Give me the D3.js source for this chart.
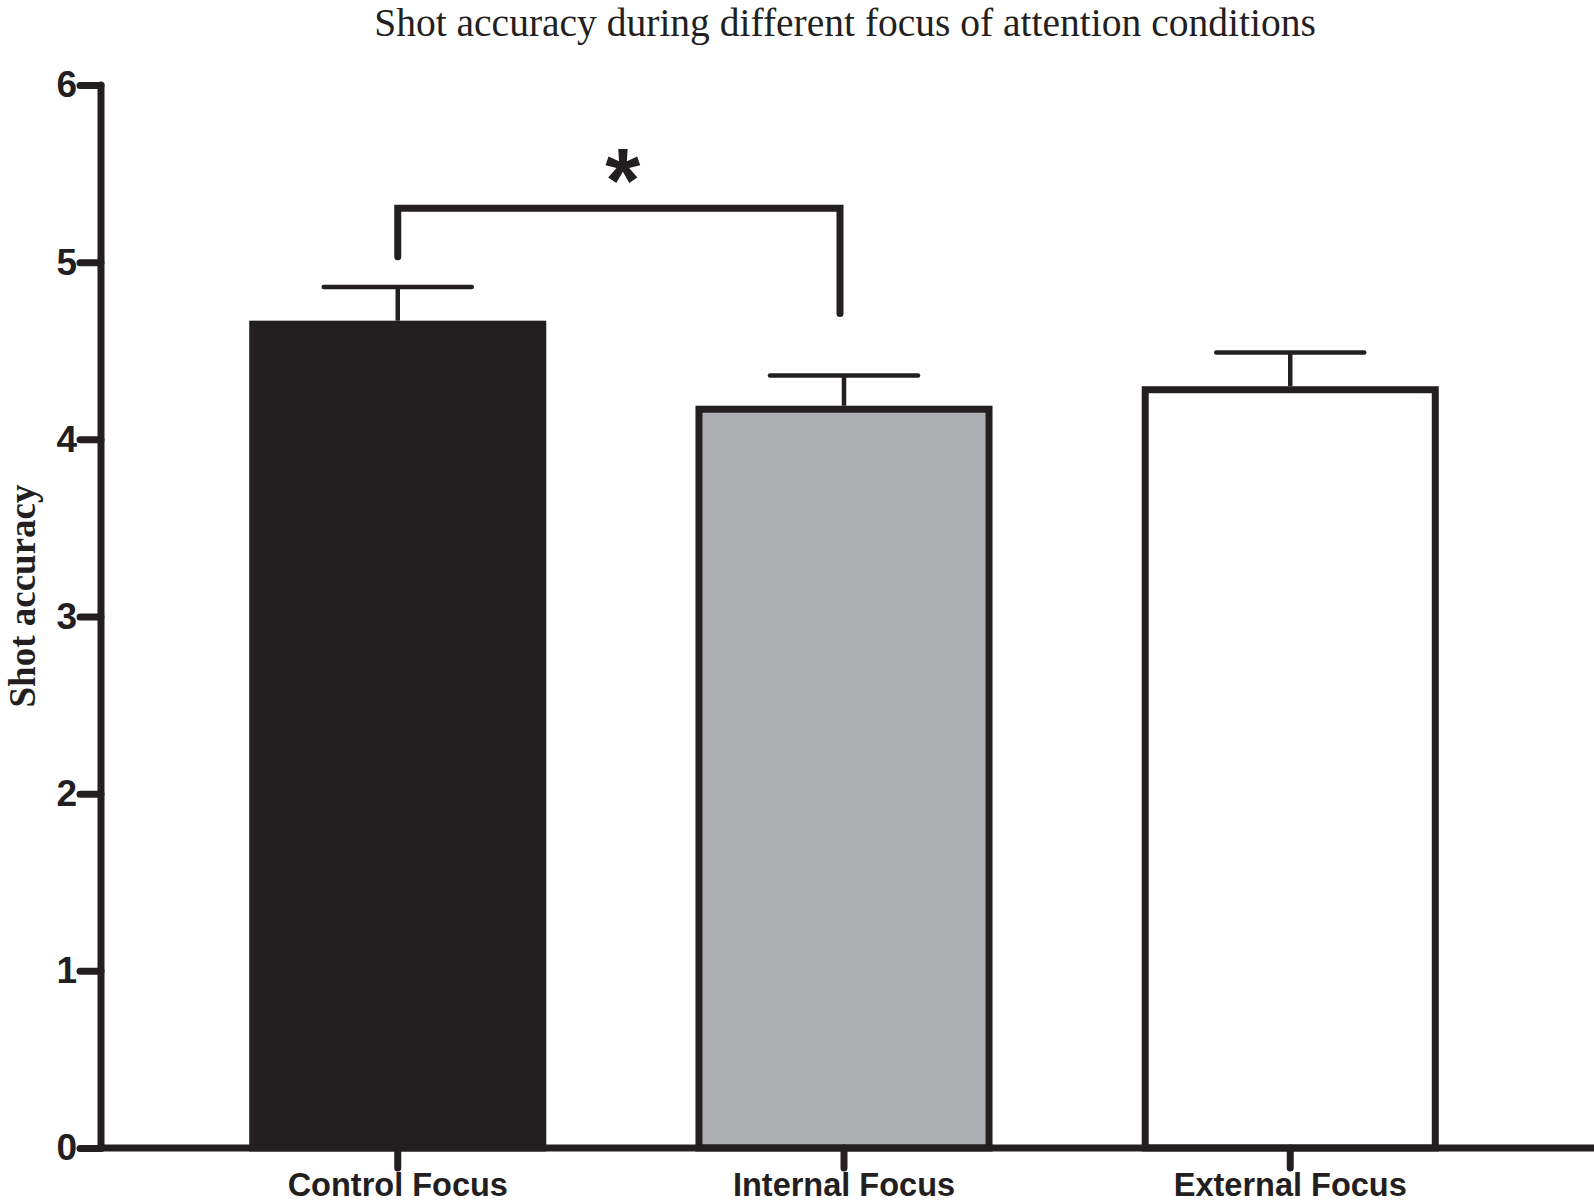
<!DOCTYPE html>
<html>
<head>
<meta charset="utf-8">
<script src="https://cdn.jsdelivr.net/npm/d3@7"></script>
<style>
  body { margin: 0; background: #fff; }
  svg { display: block; }
</style>
</head>
<body>
<script>
// data
var categories = ["Control Focus", "Internal Focus", "External Focus"];
var means = [4.65, 4.17, 4.28];
var sems = [0.21, 0.19, 0.21];
var fills = ["#231f20", "#adaeb1", "#ffffff"];
var yTicks = [0, 1, 2, 3, 4, 5, 6];
// significance bracket: pair, bar-top level, left/right leg ends
var sigPair = ["Control Focus", "Internal Focus"];
var sigLevels = [5.305, 5.03, 4.71];

var W = 1594, H = 1202;
var INK = "#231f20";
var AXIS_W = 7;

var svg = d3.select("body").append("svg")
	.attr("width", W)
	.attr("height", H);

var x = d3.scaleBand()
	.domain(categories)
	.range([101, 1587])
	.paddingInner(0.35)
	.paddingOuter(0.34);

var y = d3.scaleLinear()
	.domain([0, 6])
	.range([1148, 85]);

function cx(c) { return x(c) + x.bandwidth() / 2; }

// title
svg.append("text")
	.attr("x", 845)
	.attr("y", 36)
	.attr("text-anchor", "middle")
	.attr("font-family", "Liberation Serif, Times New Roman, serif")
	.attr("font-size", 39.5)
	.attr("fill", INK)
	.text("Shot accuracy during different focus of attention conditions");

// y label
svg.append("text")
	.attr("transform", "translate(35,596) rotate(-90)")
	.attr("text-anchor", "middle")
	.attr("font-family", "Liberation Serif, Times New Roman, serif")
	.attr("font-weight", "bold")
	.attr("font-size", 37)
	.attr("fill", INK)
	.text("Shot accuracy");

// bars
svg.append("g").selectAll("rect")
	.data(categories)
	.enter().append("rect")
	.attr("x", function(d) { return x(d); })
	.attr("y", function(d, i) { return y(means[i]); })
	.attr("width", x.bandwidth())
	.attr("height", function(d, i) { return y(0) - y(means[i]); })
	.attr("fill", function(d, i) { return fills[i]; })
	.attr("stroke", INK)
	.attr("stroke-width", AXIS_W);

// error bars (upper only)
var eb = svg.append("g").attr("stroke", INK).attr("stroke-linecap", "round");
categories.forEach(function(c, i) {
	var top = y(means[i] + sems[i]);
	eb.append("line")
		.attr("x1", cx(c)).attr("x2", cx(c))
		.attr("y1", y(means[i]) - AXIS_W / 2).attr("y2", top)
		.attr("stroke-width", 4.5)
		.attr("stroke-linecap", "butt");
	eb.append("line")
		.attr("x1", cx(c) - 74).attr("x2", cx(c) + 74)
		.attr("y1", top).attr("y2", top)
		.attr("stroke-width", 4.5);
});

// y axis
var yAxis = d3.axisLeft(y)
	.tickValues(yTicks)
	.tickFormat(d3.format("d"))
	.tickSize(21)
	.tickPadding(3);

var gy = svg.append("g")
	.attr("transform", "translate(101,0)")
	.call(yAxis);
gy.select(".domain").remove();
gy.selectAll(".tick line")
	.attr("stroke", INK)
	.attr("stroke-width", AXIS_W)
	.attr("stroke-linecap", "round");
gy.selectAll(".tick text")
	.attr("fill", INK)
	.attr("font-family", "Liberation Sans, Arial, sans-serif")
	.attr("font-weight", "bold")
	.attr("font-size", 37);

gy.append("line")
	.attr("x1", 0).attr("x2", 0)
	.attr("y1", y(6)).attr("y2", y(0))
	.attr("stroke", INK)
	.attr("stroke-width", AXIS_W)
	.attr("stroke-linecap", "round");

// x axis
var xAxis = d3.axisBottom(x)
	.tickSize(20)
	.tickPadding(5);

var gx = svg.append("g")
	.attr("transform", "translate(0," + y(0) + ")")
	.call(xAxis);
gx.select(".domain").remove();
gx.selectAll(".tick line")
	.attr("stroke", INK)
	.attr("stroke-width", AXIS_W)
	.attr("stroke-linecap", "round");
gx.selectAll(".tick text")
	.attr("fill", INK)
	.attr("font-family", "Liberation Sans, Arial, sans-serif")
	.attr("font-weight", "bold")
	.attr("font-size", 32.5);

gx.append("line")
	.attr("x1", 101).attr("x2", W)
	.attr("y1", 0).attr("y2", 0)
	.attr("stroke", INK)
	.attr("stroke-width", AXIS_W);

// significance bracket
var xl = cx(sigPair[0]), xr = cx(sigPair[1]) - 4;
svg.append("path")
	.attr("d", "M" + xl + "," + y(sigLevels[1]) +
		"V" + y(sigLevels[0]) +
		"H" + xr +
		"V" + y(sigLevels[2]))
	.attr("fill", "none")
	.attr("stroke", INK)
	.attr("stroke-width", AXIS_W)
	.attr("stroke-linecap", "round")
	.attr("stroke-linejoin", "miter");

svg.append("text")
	.attr("x", (xl + xr) / 2 + 4)
	.attr("y", y(sigLevels[0]) + 4)
	.attr("text-anchor", "middle")
	.attr("font-family", "Liberation Sans, Arial, sans-serif")
	.attr("font-weight", "bold")
	.attr("font-size", 90)
	.attr("fill", INK)
	.text("*");
</script>
</body>
</html>
